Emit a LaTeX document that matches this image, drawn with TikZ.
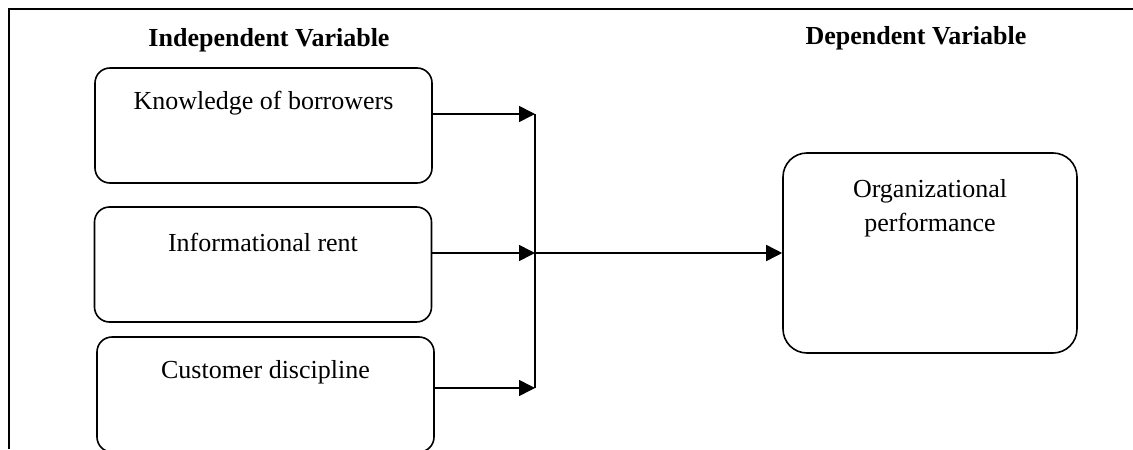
\documentclass[tikz,border=0pt]{standalone}
\usepackage{fontspec}
\setmainfont{Liberation Serif}
\usetikzlibrary{arrows.meta}

\tikzset{
  varbox/.style={draw, line width=0.8pt, rounded corners=7.5pt,
    minimum width=168.5pt, minimum height=57.5pt, inner sep=0pt},
  outbox/.style={varbox, rounded corners=12pt,
    minimum width=147pt, minimum height=100pt},
  link/.style={line width=0.8pt, -{Triangle[length=8pt,width=8pt]}},
  boxtext/.style={anchor=center, yshift=-18pt, font=\fontsize{13}{17}\selectfont, align=center}
}

\begin{document}
\begin{tikzpicture}[x=0.5pt, y=-0.5pt]
\useasboundingbox (0,0) rectangle (1133,449);

% Frame
\draw[line width=0.8pt] (9,449) -- (9,9) -- (1133,9);

% Headers
\node[font=\fontsize{13}{16}\selectfont\bfseries] (indep) at (269,40) {Independent Variable};
\node[font=\fontsize{13}{16}\selectfont\bfseries] (dep) at (916,38) {Dependent Variable};

% Independent boxes
\node[varbox, label={[boxtext]north:Knowledge of borrowers}] (know) at (263.5,125.5) {};
\node[varbox, label={[boxtext]north:Informational rent}] (rent) at (263,264.5) {};
\node[varbox, label={[boxtext]north:Customer discipline}] (disc) at (265.5,394.5) {};

% Dependent box
\node[outbox, label={[boxtext, yshift=-10pt]north:Organizational\\performance}] (perf) at (930,253) {};

% Junction
\coordinate (j1) at (535,114);
\coordinate (j2) at (535,253);
\coordinate (j3) at (535,388);

\draw[link] (know.east |- j1) -- (j1);
\draw[link] (rent.east |- j2) -- (j2);
\draw[link] (disc.east |- j3) -- (j3);
\draw[line width=0.8pt] (j1) -- (j3);
\draw[link] (j2) -- (perf.west);
\end{tikzpicture}
\end{document}
